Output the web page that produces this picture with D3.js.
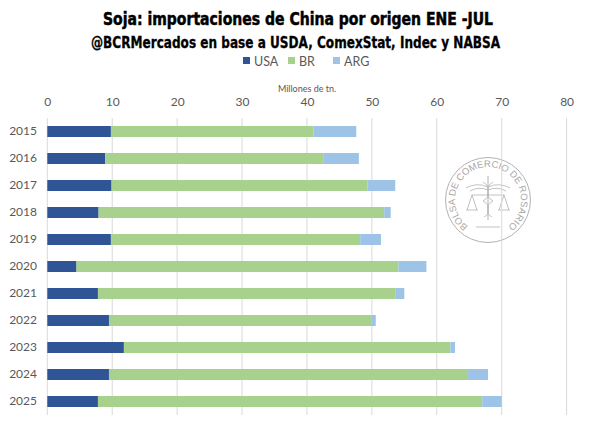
<!DOCTYPE html>
<html><head><meta charset="utf-8">
<script src="https://cdn.jsdelivr.net/npm/d3@7"></script>
<style>
html,body{margin:0;padding:0;background:#fff;}
svg{display:block;}
</style></head>
<body>
<svg id="chart" width="600" height="435"></svg>
<script>
const years = ["2015","2016","2017","2018","2019","2020","2021","2022","2023","2024","2025"];
const usa = [9.8, 8.9, 9.9, 7.9, 9.8, 4.5, 7.8, 9.5, 11.8, 9.5, 7.8];
const br  = [31.2, 33.7, 39.4, 44.0, 38.4, 49.6, 45.8, 40.4, 50.3, 55.3, 59.2];
const arg = [6.6, 5.4, 4.3, 1.0, 3.2, 4.3, 1.4, 0.7, 0.7, 3.1, 3.0];
const seriesNames = ["USA", "BR", "ARG"];
const xTicks = [0, 10, 20, 30, 40, 50, 60, 70, 80];
const colors = {USA: "#2F5597", BR: "#A9D18E", ARG: "#9DC3E6"};

const svg = d3.select("#chart");
const plotLeft = 47.3, plotRight = 566.6, plotTop = 118, plotBottom = 415;

const x = d3.scaleLinear().domain([0, 80]).range([plotLeft, plotRight]);
const y = d3.scaleBand().domain(years).range([plotTop, plotBottom]).paddingInner(0.593).paddingOuter(0.2965);

const rows = years.map((yr, i) => ({year: yr, USA: usa[i], BR: br[i], ARG: arg[i]}));
const stacked = d3.stack().keys(seriesNames)(rows);

// Title
const condensed = "'Liberation Sans Narrow','DejaVu Sans Condensed',sans-serif";
svg.append("text").attr("x", 298).attr("y", 25).attr("text-anchor", "middle")
  .attr("font-family", condensed).attr("font-weight", "bold").attr("font-size", 18)
  .attr("textLength", 390).attr("lengthAdjust", "spacingAndGlyphs").attr("fill", "#000")
  .attr("stroke", "#000").attr("stroke-width", 0.5)
  .text("Soja: importaciones de China por origen ENE -JUL");
svg.append("text").attr("x", 295.5).attr("y", 47.7).attr("text-anchor", "middle")
  .attr("font-family", condensed).attr("font-weight", "bold").attr("font-size", 15.5)
  .attr("textLength", 409).attr("lengthAdjust", "spacingAndGlyphs").attr("fill", "#000")
  .attr("stroke", "#000").attr("stroke-width", 0.3)
  .text("@BCRMercados en base a USDA, ComexStat, Indec y NABSA");

// Legend
const legX = [243, 288, 333];
const leg = svg.append("g");
seriesNames.forEach((s, i) => {
  leg.append("rect").attr("x", legX[i]).attr("y", 57).attr("width", 7).attr("height", 7).attr("fill", colors[s]);
  leg.append("text").attr("x", legX[i] + 11).attr("y", 65.5)
    .attr("font-family", "Lato, 'Open Sans', sans-serif").attr("font-size", 12.5).attr("fill", "#595959").text(s);
});

// Axis title
svg.append("text").attr("x", 307).attr("y", 92).attr("text-anchor", "middle")
  .attr("font-family", "Lato, 'Open Sans', sans-serif").attr("font-size", 9).attr("fill", "#595959")
  .text("Millones de tn.");

// Watermark seal
const wm = svg.append("g").attr("transform", "translate(488,200)").attr("opacity", 0.75);
wm.append("circle").attr("r", 42.5).attr("fill", "none").attr("stroke", "#9a9a9a").attr("stroke-width", 1);
const rr = 33, a0 = -2.45, a1 = 2.45;
const pt = a => [rr * Math.sin(a), -rr * Math.cos(a)];
wm.append("path").attr("id", "sealArc").attr("fill", "none")
  .attr("d", `M${pt(a0)[0]},${pt(a0)[1]} A${rr},${rr} 0 1 1 ${pt(a1)[0]},${pt(a1)[1]}`);
wm.append("text").attr("font-family", "'Liberation Sans',sans-serif").attr("font-size", 9.5)
  .attr("fill", "#8a8a8a")
  .append("textPath").attr("href", "#sealArc").attr("startOffset", "50%").attr("text-anchor", "middle")
  .text("BOLSA DE COMERCIO DE ROSARIO");
wm.append("line").attr("x1", 0).attr("y1", -24).attr("x2", 0).attr("y2", 20).attr("stroke", "#9a9a9a");
wm.append("path").attr("fill", "none").attr("stroke", "#9a9a9a").attr("stroke-width", 0.8)
  .attr("d", "M-22,-12 Q-11,-18 0,-13 Q11,-18 22,-12 M-18,-9 Q-9,-14 0,-10 Q9,-14 18,-9");
wm.append("line").attr("x1", -16).attr("y1", -5).attr("x2", 16).attr("y2", -5).attr("stroke", "#9a9a9a").attr("stroke-width", 0.8);
wm.append("path").attr("fill", "none").attr("stroke", "#9a9a9a").attr("stroke-width", 0.8)
  .attr("d", "M-16,-5 L-21,10 M-16,-5 L-11,10 M-22,10 L-10,10 M16,-5 L11,10 M16,-5 L21,10 M10,10 L22,10");
wm.append("path").attr("fill", "none").attr("stroke", "#9a9a9a").attr("stroke-width", 0.8)
  .attr("d", "M-5,-18 C6,-12 -6,-5 5,1 C-6,7 6,12 -4,17 M5,-18 C-6,-12 6,-5 -5,1 C6,7 -6,12 4,17");
wm.append("line").attr("x1", -12).attr("y1", 27).attr("x2", 12).attr("y2", 27).attr("stroke", "#9a9a9a").attr("stroke-width", 0.8);

// Gridlines
svg.append("g").selectAll("line").data(xTicks).join("line")
  .attr("x1", d => x(d)).attr("x2", d => x(d)).attr("y1", plotTop).attr("y2", plotBottom)
  .attr("stroke", "#d9d9d9").attr("stroke-width", 1);

// Top axis labels
const xAxis = d3.axisTop(x).tickValues(xTicks).tickSize(0).tickPadding(0).tickFormat(d3.format("d"));
const gx = svg.append("g").attr("transform", "translate(0,106)").call(xAxis);
gx.select(".domain").remove();
gx.selectAll("text").attr("font-family", "Lato, 'Open Sans', sans-serif").attr("font-size", 12).attr("fill", "#595959");

// Left axis labels
const yAxis = d3.axisLeft(y).tickSize(0).tickPadding(0);
const gy = svg.append("g").attr("transform", "translate(37,0)").call(yAxis);
gy.select(".domain").remove();
gy.selectAll("text").attr("font-family", "Lato, 'Open Sans', sans-serif").attr("font-size", 12).attr("fill", "#595959");

// Bars
svg.append("g").selectAll("g").data(stacked).join("g")
  .attr("fill", d => colors[d.key])
  .selectAll("rect").data(d => d).join("rect")
  .attr("x", d => x(d[0])).attr("width", d => x(d[1]) - x(d[0]))
  .attr("y", d => y(d.data.year)).attr("height", y.bandwidth());
</script>
</body></html>
